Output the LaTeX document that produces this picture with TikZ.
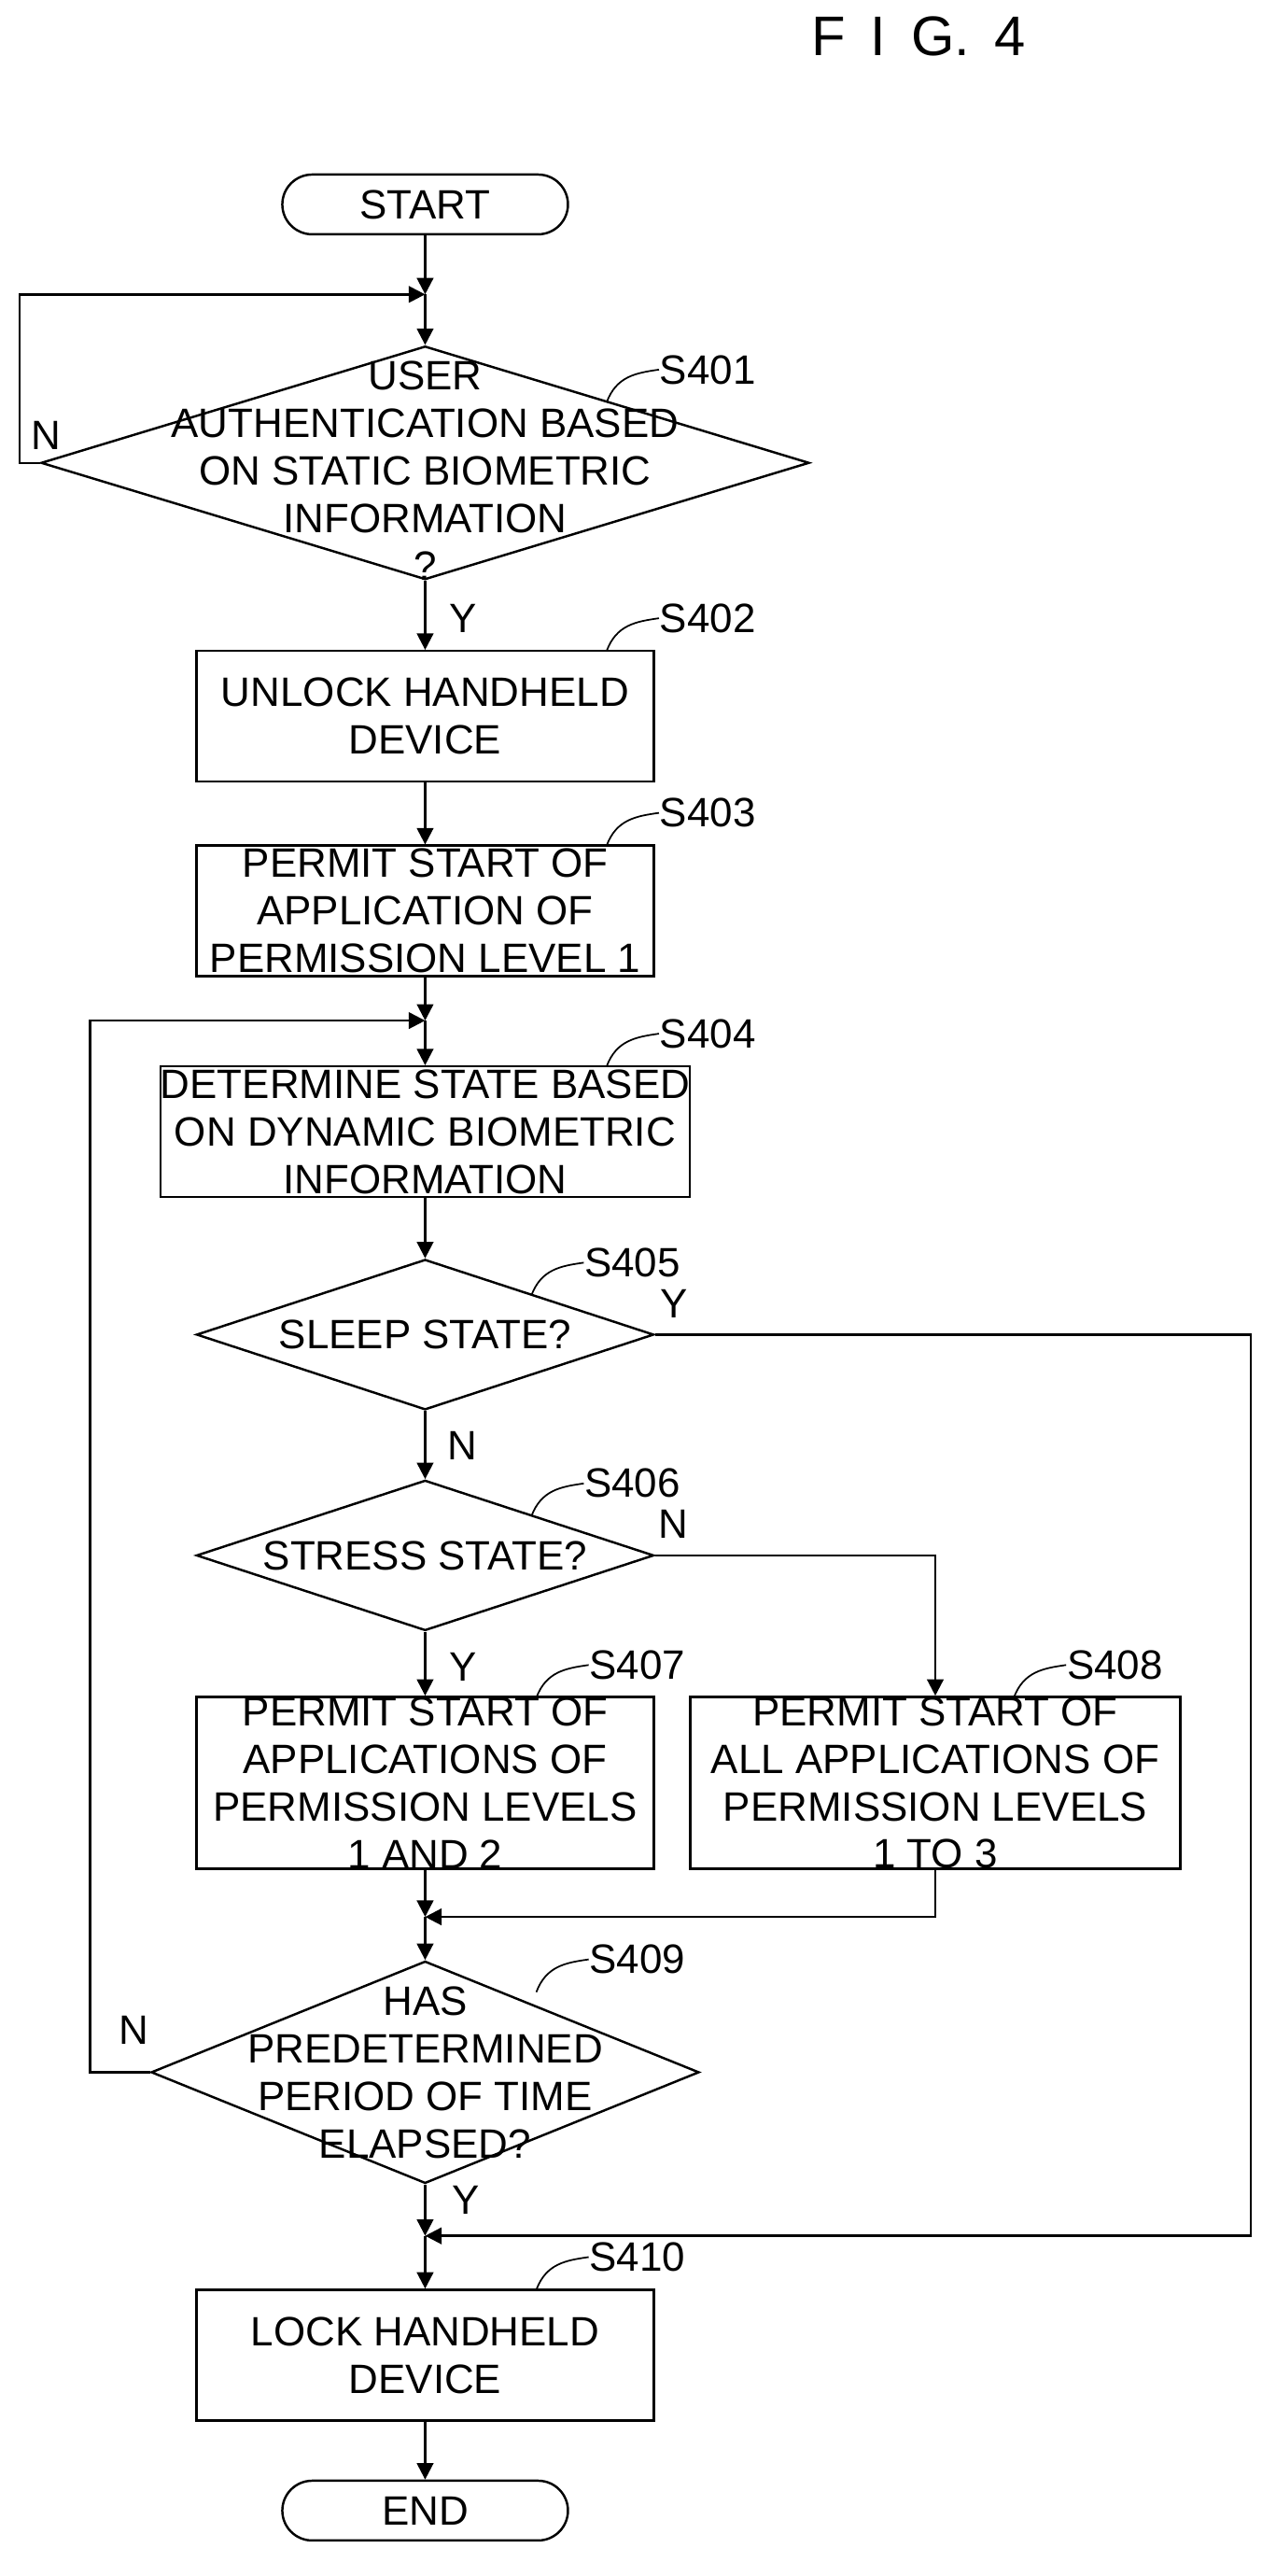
\documentclass[tikz,border=0pt]{standalone}
\usepackage{fontspec}
\setmainfont{Liberation Sans}
\usetikzlibrary{positioning, arrows.meta, calc, shapes.geometric}

\begin{document}
\begin{tikzpicture}[
  x=0.01751cm, y=-0.01751cm,
  line width=0.7pt,
  every node/.style={font=\fontsize{12.5}{14.5}\selectfont, align=center},
  box/.style={draw, rectangle, minimum width=4.9cm, minimum height=1.4cm, inner sep=0pt},
  term/.style={draw, rounded corners=0.32cm, minimum width=3.06cm, minimum height=0.64cm, inner sep=0pt},
  dec/.style={draw, diamond, inner sep=0pt},
  txt/.style={inner sep=0pt},
  flow/.style={-{Triangle[length=5pt, width=5pt]}},
  squig/.style={line width=0.5pt}
]
\useasboundingbox (0,0) rectangle (780,1575);

\newcommand{\steplab}[3]{%
  \coordinate (#1a) at (#2);
  \draw[squig] (#1a) .. controls +(6,-16) and +(-14,2) .. ++(32,-20) node[right, txt] {#3};}

\node[txt, font=\fontsize{17}{19}\selectfont] (fig) at (562,22) {F\, I\, G.\, 4};

% main column
\node[term] (start) at (260,125) {START};
\node[dec, minimum width=8.23cm, minimum height=2.5cm] (s401) at (260,283) {};
\node[txt] (t401) at (260,288) {USER\\AUTHENTICATION BASED\\ON STATIC BIOMETRIC\\INFORMATION\\?};
\node[box] (s402) at (260,438) {UNLOCK HANDHELD\\DEVICE};
\node[box] (s403) at (260,557) {PERMIT START OF\\APPLICATION OF\\PERMISSION LEVEL 1};
\node[box, minimum width=4.99cm] (s404) at (260,692) {DETERMINE STATE BASED\\ON DYNAMIC BIOMETRIC\\INFORMATION};
\node[dec, minimum width=4.9cm, minimum height=1.61cm] (s405) at (260,816) {};
\node[txt] (t405) at (260,816) {SLEEP STATE?};
\node[dec, minimum width=4.9cm, minimum height=1.61cm] (s406) at (260,951) {};
\node[txt] (t406) at (260,951) {STRESS STATE?};
\node[box, minimum height=1.84cm] (s407) at (260,1090) {PERMIT START OF\\APPLICATIONS OF\\PERMISSION LEVELS\\1 AND 2};
\node[box, minimum height=1.84cm, minimum width=5.25cm] (s408) at (572,1090) {PERMIT START OF\\ALL APPLICATIONS OF\\PERMISSION LEVELS\\1 TO 3};
\node[dec, minimum width=5.87cm, minimum height=2.38cm] (s409) at (260,1267) {};
\node[txt] (t409) at (260,1267) {HAS\\PREDETERMINED\\PERIOD OF TIME\\ELAPSED?};
\node[box] (s410) at (260,1440) {LOCK HANDHELD\\DEVICE};
\node[term] (end) at (260,1535) {END};

% junctions
\coordinate (j1) at (260,180);
\coordinate (j4) at (260,624);
\coordinate (j5) at (260,1172);
\coordinate (j6) at (260,1367);

% connectors
\draw[flow] (start) -- (j1);
\draw[flow] (j1) -- (s401.north);
\draw[flow] (s401.west) -- (12,283) |- (j1);
\draw[flow] (s401.south) -- (s402.north);
\draw[flow] (s402) -- (s403);
\draw[flow] (s403.south) -- (j4);
\draw[flow] (j4) -- (s404.north);
\draw[flow] (s404) -- (s405);
\draw[flow] (s405) -- (s406);
\draw[flow] (s406) -- (s407);
\draw[flow] (s406.east) -| (s408.north);
\draw[flow] (s407.south) -- (j5);
\draw[flow] (s408.south) |- (j5);
\draw[flow] (j5) -- (s409.north);
\draw[flow] (s409.west) -- (55,1267) |- (j4);
\draw[flow] (s405.east) -- (765,816) |- (j6);
\draw[flow] (s409.south) -- (j6);
\draw[flow] (j6) -- (s410.north);
\draw[flow] (s410) -- (end);

% branch labels
\node[txt] (n401) at (28,266) {N};
\node[txt] (y401) at (283,378) {Y};
\node[txt] (y405) at (412,797) {Y};
\node[txt] (n405) at (283,884) {N};
\node[txt] (n406) at (412,932) {N};
\node[txt] (y406) at (283,1019) {Y};
\node[txt] (n409) at (82,1241) {N};
\node[txt] (y409) at (285,1345) {Y};

% step labels
\steplab{l401}{371,246}{S401}
\steplab{l402}{371,398}{S402}
\steplab{l403}{371,517}{S403}
\steplab{l404}{371,652}{S404}
\steplab{l405}{325,792}{S405}
\steplab{l406}{325,927}{S406}
\steplab{l407}{328,1038}{S407}
\steplab{l408}{620,1038}{S408}
\steplab{l409}{328,1218}{S409}
\steplab{l410}{328,1400}{S410}
\end{tikzpicture}
\end{document}
